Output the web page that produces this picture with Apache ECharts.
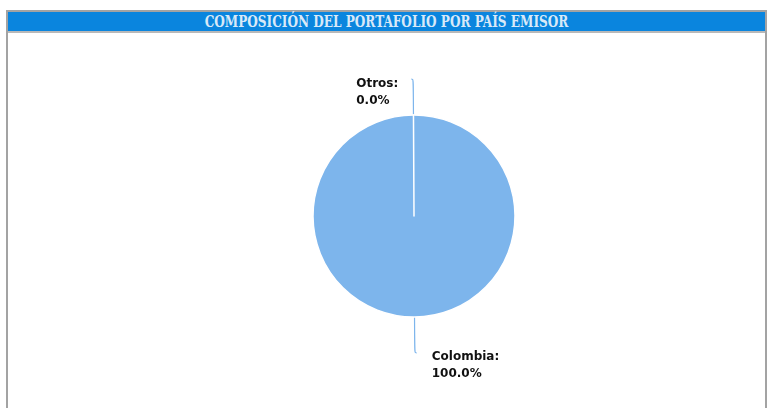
<!DOCTYPE html>
<html>
<head>
<meta charset="utf-8">
<script src="https://cdn.jsdelivr.net/npm/echarts@6/dist/echarts.min.js"></script>
<style>
    html, body { margin: 0; padding: 0; background: #fff; }
    #frame {
        position: absolute; left: 6px; top: 10px; width: 761px; height: 420px;
        border: 2px solid #a3a3a3; box-sizing: border-box;
    }
    #bar {
        position: absolute; left: 0; top: 0; right: 0; height: 19px;
        background: #0a85de; border-bottom: 2px solid #b9b9b9;
        color: #d8e9f8; text-align: center;
        font-family: "DejaVu Serif", serif; font-stretch: condensed; font-weight: bold;
        font-size: 16px; line-height: 20px;
    }
    #bar span { display: inline-block; transform: scaleX(0.84); white-space: nowrap; }
    #chart { position: absolute; left: 0; top: 0; width: 771px; height: 408px; }
</style>
</head>
<body>
<div id="frame"><div id="bar"><span>COMPOSICIÓN DEL PORTAFOLIO POR PAÍS EMISOR</span></div></div>
<div id="chart"></div>
<script>
(function (window) {
    "use strict";
    var paises = ['Colombia', 'Otros'];
    var valores = [100, 0];

    var load = function () {
        var chart = echarts.init(document.getElementById("chart"));
        var data = paises.map(function (p, i) {
            return { name: p, value: valores[i] };
        });
        var txt = { align: 'left', color: '#111', fontWeight: 'bold', fontSize: 12, lineHeight: 17, fontFamily: 'DejaVu Sans' };
        chart.setOption({
            animation: false,
            series: [{
                type: 'pie',
                center: [414, 216],
                radius: [0, 101],
                startAngle: 90.3,
                minShowLabelAngle: 0,
                stillShowZeroSum: true,
                avoidLabelOverlap: false,
                color: ['#7db5ec', '#7db5ec'],
                itemStyle: { borderColor: '#fff', borderWidth: 1.5 },
                label: {
                    formatter: function (p) {
                        return '{t|' + p.name + ':}\n{t|' + p.percent.toFixed(1) + '%}';
                    },
                    rich: { t: txt },
                    color: '#111',
                    fontWeight: 'bold',
                    fontSize: 12,
                    lineHeight: 17,
                    fontFamily: 'DejaVu Sans',
                    distanceToLabelLine: 10
                },
                labelLine: {
                    length: 36,
                    length2: 2,
                    smooth: 0.6,
                    lineStyle: { color: '#7db5ec', width: 1.2 }
                },
                labelLayout: function (p) {
                    if (p.labelRect.x < 414) return { dx: -3, dy: 13 };
                    return { dx: 5, dy: 12 };
                },
                data: data
            }]
        });
    };
    window.addEventListener("load", load, false);
})(window);
</script>
</body>
</html>
